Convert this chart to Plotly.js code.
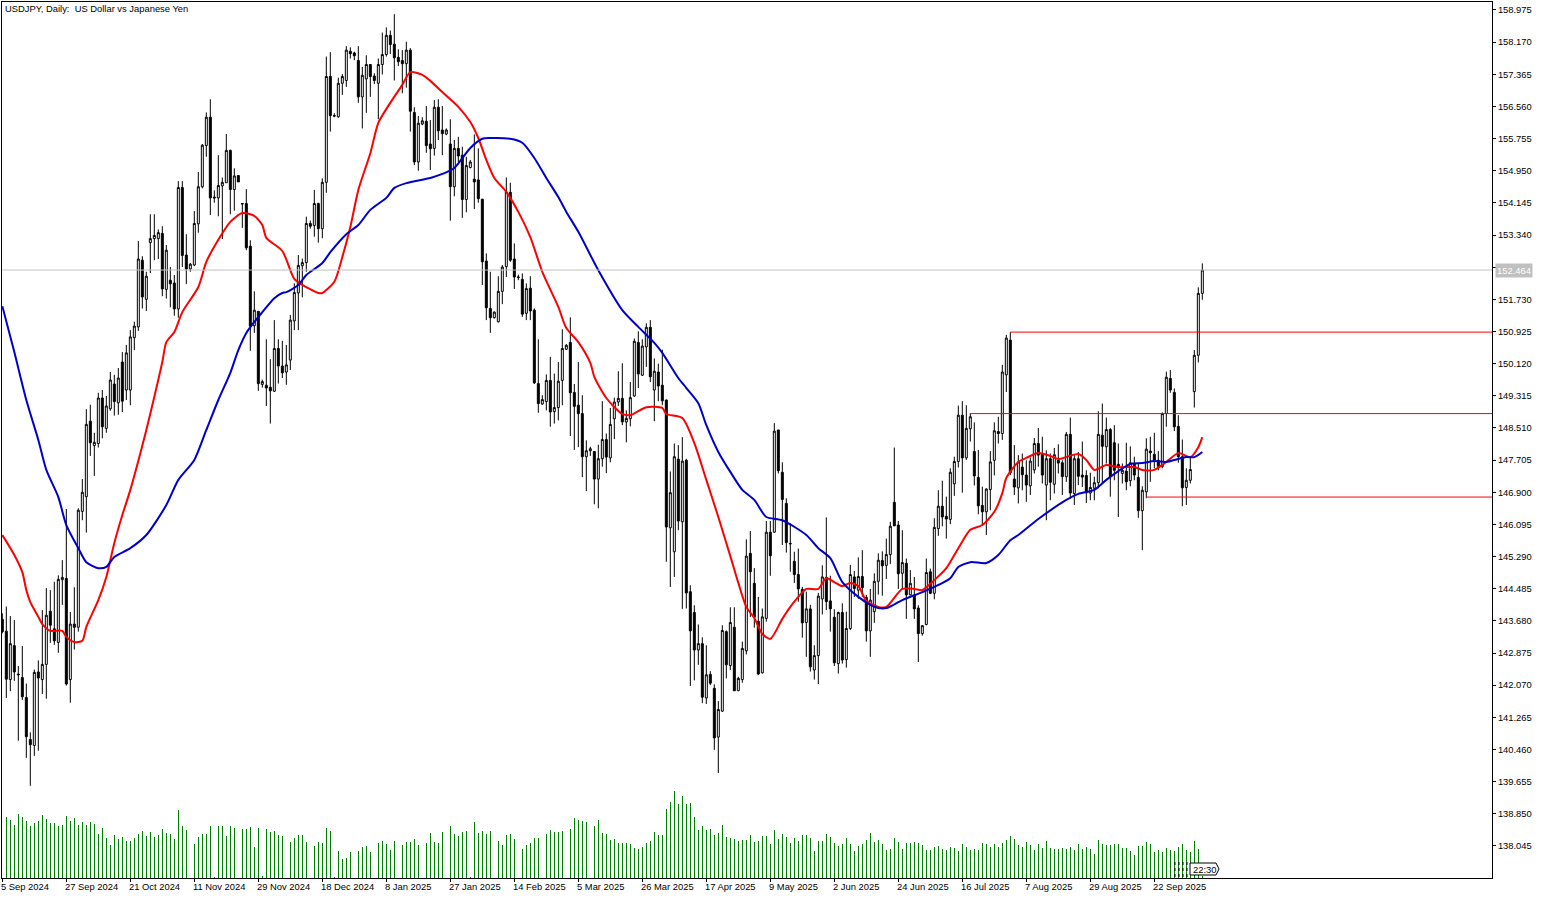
<!DOCTYPE html>
<html>
<head>
<meta charset="utf-8">
<title>USDJPY Daily</title>
<script src="https://cdn.plot.ly/plotly-3.0.1.min.js"></script>
<style>
    html, body { margin: 0; padding: 0; background: #ffffff; }
    #chart { width: 1545px; height: 899px; }
</style>
</head>
<body>
<div id="chart"></div>
<script>
"use strict";

const chartTitle = "USDJPY, Daily:  US Dollar vs Japanese Yen";

// Etiquetas del eje de tiempo, una cada 16 barras
const tickLabels = ["5 Sep 2024", "27 Sep 2024", "21 Oct 2024", "11 Nov 2024", "29 Nov 2024", "18 Dec 2024", "8 Jan 2025", "27 Jan 2025", "14 Feb 2025", "5 Mar 2025", "26 Mar 2025", "17 Apr 2025", "9 May 2025", "2 Jun 2025", "24 Jun 2025", "16 Jul 2025", "7 Aug 2025", "29 Aug 2025", "22 Sep 2025"];
const tickEvery = 16;

// Marcas del eje de precios
const priceTicks = [138.045,138.850,139.655,140.460,141.265,142.070,142.875,143.680,144.485,145.290,146.095,146.900,147.705,148.510,149.315,150.120,150.925,151.730,152.535,153.340,154.145,154.950,155.755,156.560,157.365,158.170,158.975];
// Esta marca queda tapada por la etiqueta del ultimo precio
const hiddenPriceTick = 152.535;

const open = [
143.72,143.42,142.21,143.06,142.35,142.26,141.76,140.71,140.56,142.40,
142.21,142.59,143.92,143.48,143.14,144.71,144.74,142.21,143.60,143.52,
146.42,146.79,148.68,148.07,148.12,149.26,148.50,148.99,149.61,149.14,
150.16,149.46,149.46,150.77,151.04,152.71,151.73,153.15,153.25,153.25,
153.38,151.98,152.21,152.14,151.49,154.53,152.84,152.49,152.59,153.62,
154.55,155.58,156.29,154.29,154.27,154.57,154.65,155.46,154.48,154.83,
154.13,154.13,153.06,151.07,151.43,149.60,149.58,149.53,149.43,150.50,
150.06,149.91,150.21,151.19,151.89,152.57,152.65,153.63,153.58,154.13,
153.50,154.66,157.31,156.33,156.30,157.14,157.21,157.94,157.90,157.71,
156.80,157.25,157.61,157.32,157.14,157.61,157.86,158.34,158.12,157.79,
157.71,157.63,157.97,156.41,155.17,156.12,156.19,155.62,155.51,156.54,
155.97,155.87,155.62,154.55,155.51,155.34,154.23,155.03,154.74,154.72,
154.24,152.69,151.50,151.27,151.17,151.93,152.55,154.41,152.74,152.29,
152.23,151.38,152.01,151.46,149.62,149.11,149.17,149.70,148.92,149.02,
149.70,150.48,150.65,149.40,149.08,148.87,147.79,147.94,147.92,147.23,
147.74,148.22,147.76,148.74,149.16,149.25,148.66,148.74,149.31,150.65,
149.83,150.54,151.03,149.46,149.91,149.58,149.21,146.01,145.41,147.73,
146.16,147.70,144.41,143.89,142.95,143.11,141.75,142.34,141.99,140.77,
141.42,143.41,142.56,143.52,141.93,142.21,142.93,145.37,144.62,143.67,
142.38,143.74,145.90,145.90,148.46,147.40,146.62,145.62,145.17,144.84,
144.47,143.64,143.98,142.45,142.81,144.23,144.77,144.18,143.77,142.61,
143.89,142.71,143.49,144.78,144.45,144.79,144.27,143.43,143.91,144.67,
145.19,145.07,145.34,146.65,146.08,144.87,145.12,144.33,144.32,144.00,
143.36,143.59,144.91,144.37,145.99,146.55,146.30,146.22,147.11,147.67,
148.83,147.76,148.49,147.92,147.27,146.57,146.41,146.97,147.70,148.42,
148.37,149.84,150.71,147.23,147.01,147.53,147.33,147.06,147.46,148.12,
147.87,147.08,147.74,147.10,147.70,147.64,147.29,148.35,146.87,147.74,
147.33,147.32,146.88,147.00,147.14,148.33,148.04,148.47,148.14,147.60,
147.37,147.43,147.19,147.62,147.27,146.44,146.91,147.93,147.85,147.70,
147.54,148.87,149.75,149.40,148.55,147.79,147.02,147.20,149.42,150.33,
151.88];

const high = [
143.87,144.04,143.80,143.70,142.55,143.05,142.11,140.89,142.46,142.69,
143.95,144.50,144.45,144.66,144.82,145.20,146.48,143.90,144.52,146.50,
147.23,148.98,149.09,148.39,149.39,149.46,149.31,149.91,149.84,150.01,
150.41,150.59,150.96,151.17,153.19,152.81,152.42,153.86,153.86,153.48,
153.56,153.09,152.54,152.34,154.69,154.69,153.36,152.64,153.94,154.92,
155.62,156.41,156.74,154.46,155.34,154.78,155.87,155.48,155.01,154.84,
154.13,154.49,153.21,151.93,151.43,149.72,150.73,150.23,151.21,150.73,
150.69,150.59,151.34,152.13,152.84,152.75,153.80,153.70,154.47,154.15,
154.76,157.81,157.92,156.39,157.28,157.37,158.07,158.04,157.93,158.07,
157.55,157.84,157.62,157.39,157.76,158.41,158.54,158.46,158.87,157.99,
157.97,158.18,158.02,156.54,156.32,156.29,156.57,156.22,156.72,156.74,
156.57,156.01,156.24,155.72,155.80,155.55,155.30,155.22,155.86,155.51,
154.24,152.88,152.42,151.43,152.31,152.59,154.78,154.65,153.13,152.35,
152.38,152.13,152.31,151.50,150.73,149.33,149.85,150.29,149.87,150.16,
150.98,150.61,151.28,149.61,150.16,149.33,148.20,148.04,147.93,148.09,
149.18,148.37,149.01,149.27,149.93,150.13,148.95,149.66,150.75,150.93,
150.73,151.13,151.21,150.25,150.12,150.47,149.22,147.42,148.12,148.08,
148.28,147.74,144.57,144.07,143.59,143.27,143.07,142.42,142.09,141.67,
143.57,143.44,144.02,144.02,142.28,143.16,145.72,145.93,145.00,144.28,
143.99,146.18,146.18,148.63,148.46,147.65,146.75,146.12,145.41,145.49,
144.53,144.41,144.08,143.07,144.38,145.07,146.27,144.81,143.97,143.91,
144.12,143.91,145.08,144.93,145.27,145.45,144.33,144.48,144.87,145.37,
145.42,145.74,146.16,148.02,146.18,145.95,145.24,144.95,144.78,144.07,
143.57,145.24,144.99,146.25,146.95,147.19,146.79,147.50,147.79,149.07,
149.18,149.08,148.88,148.65,147.96,147.04,147.00,147.93,148.65,148.79,
150.09,150.84,150.91,148.08,147.83,147.87,147.70,147.77,148.26,148.51,
148.29,147.95,147.87,148.01,148.10,147.70,148.41,148.77,147.83,147.91,
148.17,147.45,147.39,147.29,148.93,149.12,148.77,148.51,148.58,148.12,
147.62,148.14,148.05,147.79,147.62,147.05,148.25,148.29,148.39,147.93,
148.90,149.92,149.96,149.50,148.83,148.22,147.50,147.79,150.46,152.03,
152.63];

const low = [
143.37,141.75,141.92,142.18,140.68,141.70,140.25,139.55,140.30,140.43,
141.85,141.73,143.13,143.08,142.88,144.08,142.06,141.63,142.96,143.41,
146.20,145.89,147.81,147.31,148.02,148.25,148.39,148.94,148.82,148.84,
148.91,149.21,149.08,150.46,150.94,151.50,151.44,152.39,152.71,152.74,
151.81,151.75,151.53,151.32,151.27,152.54,152.11,152.42,152.56,153.40,
154.51,155.30,153.84,154.15,153.81,153.24,154.65,153.86,153.95,154.67,
153.52,152.96,150.44,150.89,149.44,149.52,149.06,148.62,149.41,149.62,
149.76,149.59,149.96,150.96,150.96,151.78,152.42,153.50,153.30,153.15,
153.26,154.40,155.93,156.29,156.28,156.85,157.05,157.76,157.72,156.65,
156.01,156.40,156.80,157.12,156.24,157.36,157.81,157.87,157.21,157.57,
156.89,157.03,155.93,155.09,154.95,156.09,155.40,154.97,155.33,155.72,
155.34,155.84,153.70,154.31,155.17,153.77,153.91,155.01,153.99,154.15,
152.09,151.21,150.89,151.25,151.15,151.61,152.29,152.67,151.99,152.21,
151.29,151.21,151.21,149.61,148.89,149.09,148.95,148.54,148.62,148.70,
149.08,150.46,148.31,147.96,148.03,147.28,146.93,147.81,146.60,146.50,
147.54,147.38,147.65,148.23,149.06,148.58,148.15,148.55,149.29,149.51,
149.81,150.04,149.66,148.68,149.18,149.08,145.16,144.53,144.78,145.95,
143.98,143.99,142.05,142.19,142.58,141.62,141.60,142.07,140.45,139.87,
141.40,142.24,142.45,141.93,141.93,142.13,142.84,143.78,143.51,142.32,
142.36,143.66,144.81,145.89,147.37,145.58,145.39,144.91,144.63,144.16,
143.26,142.78,142.41,142.21,142.10,143.84,143.95,143.41,142.55,142.36,
142.61,142.51,143.45,144.28,144.23,144.28,143.16,142.78,143.63,144.34,
144.31,144.73,145.10,146.05,144.48,144.48,143.73,144.32,143.73,142.65,
143.31,143.57,144.35,144.22,145.81,146.05,145.74,146.10,146.81,147.52,
146.89,147.71,148.17,147.07,146.35,146.06,145.83,146.45,147.32,148.12,
148.21,149.41,147.33,146.83,146.62,146.95,146.66,146.83,147.37,147.54,
147.12,146.20,146.70,146.87,147.37,146.83,147.16,146.74,146.58,147.08,
147.03,146.63,146.70,146.70,147.00,147.12,147.62,146.79,147.20,146.28,
147.12,146.95,147.05,147.20,146.26,145.45,146.75,147.16,147.50,147.45,
147.50,148.54,149.39,148.43,147.64,146.55,146.58,147.12,149.02,150.15,
151.72];

const close = [
143.41,142.22,143.11,142.40,142.33,141.78,140.78,140.58,142.39,142.25,
142.59,143.82,143.57,143.18,144.72,144.77,142.10,143.60,143.52,146.45,
146.90,148.60,148.14,148.15,149.26,148.54,149.06,149.71,149.17,149.76,
149.18,150.39,150.79,151.06,152.74,151.79,152.31,153.25,153.33,153.40,
151.99,152.96,152.12,151.49,154.53,152.83,152.49,152.61,153.63,154.55,
155.59,156.29,154.27,154.27,154.58,154.66,155.46,154.48,154.82,154.67,
154.12,153.02,151.06,151.46,149.62,149.67,149.51,149.44,150.50,150.06,
149.89,150.09,151.21,151.90,152.58,152.65,153.63,153.56,154.13,153.50,
154.66,157.31,156.33,156.32,157.14,157.31,157.97,157.88,157.83,156.80,
157.34,157.61,157.31,157.21,157.61,157.86,158.34,158.11,157.78,157.68,
157.63,157.97,156.44,155.17,156.14,156.20,155.58,155.50,156.54,155.95,
155.88,155.97,154.55,155.51,155.32,154.23,155.08,155.17,154.67,154.25,
152.67,151.52,151.27,151.41,151.93,152.54,154.42,152.71,152.29,152.28,
151.36,152.00,151.44,149.64,149.12,149.22,149.70,148.91,149.02,149.68,
150.50,150.58,149.39,149.05,148.87,147.79,147.94,147.99,147.23,147.74,
148.22,147.78,148.60,149.16,149.25,148.66,148.75,149.27,150.68,149.86,
150.56,151.03,149.79,149.93,149.56,149.19,146.03,146.89,147.79,146.18,
147.68,144.38,143.43,142.95,143.11,141.77,142.33,142.12,140.75,141.46,
143.44,142.58,143.64,141.93,142.24,142.99,145.30,144.91,143.77,142.35,
143.78,145.90,145.31,148.43,147.44,146.72,145.64,145.61,144.84,144.48,
143.63,143.98,142.53,142.81,144.30,144.78,144.16,143.98,142.63,143.89,
142.70,143.49,144.84,144.49,144.79,144.51,143.43,144.20,144.67,145.20,
145.06,145.34,146.05,146.06,144.86,145.14,144.33,144.62,143.98,143.36,
143.56,144.89,144.37,146.02,146.55,146.28,146.23,147.40,147.67,148.83,
147.76,148.50,148.79,147.31,146.56,146.41,146.98,147.66,148.44,148.37,
149.91,150.76,147.39,147.03,147.66,147.34,147.08,147.68,148.12,147.83,
147.33,147.74,147.15,147.84,147.63,147.29,148.35,146.88,147.74,147.30,
147.28,146.89,147.02,147.14,148.35,148.05,148.47,147.29,147.45,147.54,
147.45,147.16,147.64,147.33,146.44,146.95,147.98,147.89,147.68,147.55,
148.87,149.78,149.46,148.54,147.79,147.01,147.20,147.47,150.33,151.88,
152.464];

// Volumen de ticks en unidades relativas
const volume = [
0,184,175,160,193,184,172,157,166,172,190,
178,166,166,157,160,187,172,181,160,169,
160,169,163,133,151,121,100,130,118,124,
112,112,121,133,142,127,139,124,130,148,
136,133,118,205,157,145,0,103,124,133,
133,157,4,157,157,127,157,151,0,148,
148,154,94,151,7,148,139,142,130,127,
0,109,121,130,130,109,0,97,109,106,
151,142,3,82,58,61,79,0,82,94,
97,79,0,106,112,103,85,112,0,100,
109,109,118,100,0,106,136,109,106,139,
0,157,133,127,139,142,3,169,136,142,
133,142,0,112,100,130,133,118,0,88,
100,106,121,121,0,133,145,139,139,142,
0,148,181,175,172,169,0,157,175,136,
133,115,118,106,
106,106,103,91,88,94,106,112,139,130,
130,208,229,262,223,247,223,226,184,145,
157,145,148,130,136,160,124,121,118,112,
115,115,130,109,112,127,127,103,145,118,
133,124,106,121,112,130,130,121,82,112,
112,133,124,106,97,103,121,103,82,97,
103,115,136,109,115,103,85,88,121,109,
88,106,106,109,106,100,85,85,94,97,
88,85,94,91,82,103,94,85,88,85,
106,103,94,103,94,106,115,127,118,100,
94,109,100,85,103,91,112,91,88,88,
91,88,94,85,103,88,94,88,73,115,
103,100,100,103,103,91,91,82,70,97,
97,109,103,79,85,79,91,85,82,94,
103,85,79,112,88,7];

const redBars = [0,3,5,6,7,9,10,12,15,16,18,20,21,24,26,28,30,32,36,38,40,41,43,45,49,51,54,57,60,63,65,66,70,73,75,79,80,83,85,87,89,92,94,97,100,102,105,107,110,114,117,119,121,123,126,129,132,135,139,141,144,147,148,151,155,157,161,165,166,170,173,176,179,182,184,186,188,190,192,195,197,199,201,204,206,208,210,212,214,216,219,221,225,228,230,233,236,239,242,245,248,250,251,254,256,259,262,264,269,271,273,276,279,283,285,288,291,294,297,299,300];
const redValues = [145.83,145.33,144.90,144.45,144.15,143.78,143.60,143.43,143.43,143.28,143.15,143.18,143.53,144.20,144.78,145.63,146.33,146.96,148.46,149.29,150.16,150.66,150.91,151.41,152.04,152.67,153.22,153.67,153.89,153.82,153.59,153.27,152.94,152.24,152.09,151.89,151.89,152.17,152.79,153.54,154.47,155.39,156.15,156.65,157.10,157.42,157.35,157.20,156.92,156.55,156.17,155.77,155.22,154.77,154.42,153.92,153.29,152.42,151.54,151.01,150.66,150.14,149.79,149.26,148.86,148.83,149.03,149.01,148.86,148.76,148.13,147.21,146.28,145.30,144.63,144.03,143.75,143.35,143.23,143.73,144.03,144.28,144.48,144.48,144.75,144.65,144.55,144.63,144.55,144.18,144.03,144.03,144.48,144.48,144.45,144.70,145.00,145.50,145.96,146.08,146.41,146.88,147.26,147.66,147.76,147.88,147.81,147.73,147.86,147.71,147.46,147.58,147.53,147.53,147.46,147.46,147.66,147.88,147.78,148.03,148.28];

// Media lenta (azul)
const blueBars = [0,3,6,9,11,14,16,19,21,24,26,28,32,36,41,44,48,51,54,57,59,61,65,68,70,71,74,76,80,82,86,89,92,96,98,101,107,110,113,117,120,122,127,130,133,136,139,141,144,149,155,159,163,165,169,171,174,176,179,182,185,188,191,195,201,204,207,210,214,217,219,221,225,230,233,237,239,242,246,249,252,254,259,266,269,273,276,279,282,285,288,291,296,298,300];
const blueValues = [151.56,150.41,149.21,148.21,147.46,146.78,146.08,145.50,145.15,145.00,145.03,145.28,145.50,145.83,146.58,147.21,147.71,148.46,149.21,149.89,150.46,150.89,151.41,151.76,151.89,151.91,152.09,152.34,152.64,152.91,153.36,153.59,153.97,154.27,154.52,154.64,154.77,154.87,155.02,155.52,155.75,155.77,155.75,155.65,155.27,154.77,154.29,153.92,153.42,152.46,151.46,151.04,150.64,150.39,149.76,149.51,149.13,148.58,147.91,147.41,146.96,146.71,146.28,146.20,145.83,145.50,145.25,144.65,144.28,144.08,144.00,144.00,144.20,144.40,144.53,144.75,145.03,145.15,145.13,145.33,145.70,145.83,146.23,146.71,146.86,146.96,147.21,147.43,147.61,147.63,147.68,147.66,147.78,147.78,147.91];

// Niveles horizontales: precio y barra donde empiezan
const levelPrices = [150.91, 148.87, 146.78];
const levelStarts = [252, 242, 286];
const lastPrice = 152.464;
const countdown = "22:30";

const plotLeft = 2, plotRight = 1492, plotTop = 2, plotBottom = 878;
const anchoPlot = plotRight - plotLeft;
const altoPlot = plotBottom - plotTop;
const barWidthPx = 4;
const xMax = anchoPlot / barWidthPx;
const barIndex = open.map((_, i) => i);

function pxX(x) { return (x - plotLeft) / anchoPlot; }
function pxY(y) { return (plotBottom - y) / altoPlot; }

const textFont = { family: '"Liberation Sans", Arial, sans-serif', size: 9.4, color: '#000000' };

const traceVolume = {
    type: 'bar', x: barIndex, y: volume, yaxis: 'y2', width: 0.25,
    marker: { color: '#008000', line: { width: 0 } }, showlegend: false
};
const traceCandles = {
    type: 'candlestick', x: barIndex, open: open, high: high, low: low, close: close,
    whiskerwidth: 0, showlegend: false,
    increasing: { line: { color: '#000000', width: 1 }, fillcolor: '#ffffff' },
    decreasing: { line: { color: '#000000', width: 1 }, fillcolor: '#000000' }
};
const traceRed = { type: 'scatter', mode: 'lines', x: redBars, y: redValues, line: { color: '#ff0000', width: 2, shape: 'spline', smoothing: 0.7 }, showlegend: false };
const traceBlue = { type: 'scatter', mode: 'lines', x: blueBars, y: blueValues, line: { color: '#0000cd', width: 2, shape: 'spline', smoothing: 0.7 }, showlegend: false };
const traceLast = { type: 'scatter', mode: 'lines', x: [0, xMax], y: [lastPrice, lastPrice], line: { color: '#c0c0c0', width: 1 }, showlegend: false };
const traceLevels = levelPrices.map((p, i) => ({
    type: 'scatter', mode: 'lines', x: [levelStarts[i], xMax], y: [p, p],
    line: { color: '#ff0000', width: 1 }, showlegend: false
}));

const annotations = tickLabels.map((t, i) => ({
    text: t, x: i * tickEvery, xref: 'x', y: 0, yref: 'paper',
    xanchor: 'left', yanchor: 'top', xshift: -2, yshift: -2, showarrow: false, font: textFont, borderpad: 0
}));
annotations.push({
    text: chartTitle, x: pxX(4), xref: 'paper', y: pxY(9), yref: 'paper',
    xanchor: 'left', yanchor: 'middle', showarrow: false, font: textFont, borderpad: 0
});
annotations.push({
    text: lastPrice.toFixed(3), x: pxX(1495), xref: 'paper', y: lastPrice, yref: 'y',
    xanchor: 'left', yanchor: 'middle', showarrow: false, bgcolor: '#c0c0c0', borderpad: 1,
    font: { family: textFont.family, size: textFont.size, color: '#ffffff' }
});
annotations.push({
    text: countdown, x: pxX(1204), xref: 'paper', y: pxY(869), yref: 'paper',
    xanchor: 'center', yanchor: 'middle', showarrow: false, font: textFont, borderpad: 0
});

// Etiqueta de cuenta atras abajo a la derecha
const shapes = [{
    type: 'path', xref: 'paper', yref: 'paper',
    path: `M ${pxX(1190)} ${pxY(863)} L ${pxX(1216)} ${pxY(863)} L ${pxX(1219)} ${pxY(869)} L ${pxX(1216)} ${pxY(875)} L ${pxX(1190)} ${pxY(875)} Z`,
    line: { color: '#000000', width: 1 }, fillcolor: '#ffffff'
}];
[1175, 1179, 1183, 1187].forEach(x => {
    shapes.push({
        type: 'line', xref: 'paper', yref: 'paper', x0: pxX(x), x1: pxX(x), y0: pxY(862), y1: pxY(877),
        line: { color: '#000000', width: 1, dash: 'dot' }
    });
});

const layout = {
    width: 1545, height: 899,
    margin: { l: plotLeft, r: 1545 - plotRight, t: plotTop, b: 899 - plotBottom, pad: 0 },
    paper_bgcolor: '#ffffff', plot_bgcolor: '#ffffff',
    showlegend: false, hovermode: false, bargap: 0,
    xaxis: {
        range: [-0.08, xMax - 0.08], rangeslider: { visible: false },
        tickmode: 'array', tickvals: tickLabels.map((_, i) => i * tickEvery), showticklabels: false,
        ticks: 'outside', ticklen: 3, tickcolor: '#000000', tickwidth: 1,
        showgrid: false, zeroline: false, showline: true, linecolor: '#000000', linewidth: 1, mirror: true
    },
    yaxis: {
        range: [137.242, 159.175], side: 'right', tickmode: 'array', tickvals: priceTicks,
        ticktext: priceTicks.map(v => v === hiddenPriceTick ? '' : v.toFixed(3)),
        ticks: 'outside', ticklen: 3, tickcolor: '#000000', tickwidth: 1, tickfont: textFont,
        showgrid: false, zeroline: false, showline: true, linecolor: '#000000', linewidth: 1, mirror: true
    },
    yaxis2: { overlaying: 'y', side: 'left', range: [0, altoPlot * 3], visible: false },
    annotations: annotations,
    shapes: shapes
};

Plotly.newPlot('chart', [traceVolume, traceCandles, traceRed, traceBlue, traceLast].concat(traceLevels), layout, { staticPlot: true, displayModeBar: false });
</script>
</body>
</html>
